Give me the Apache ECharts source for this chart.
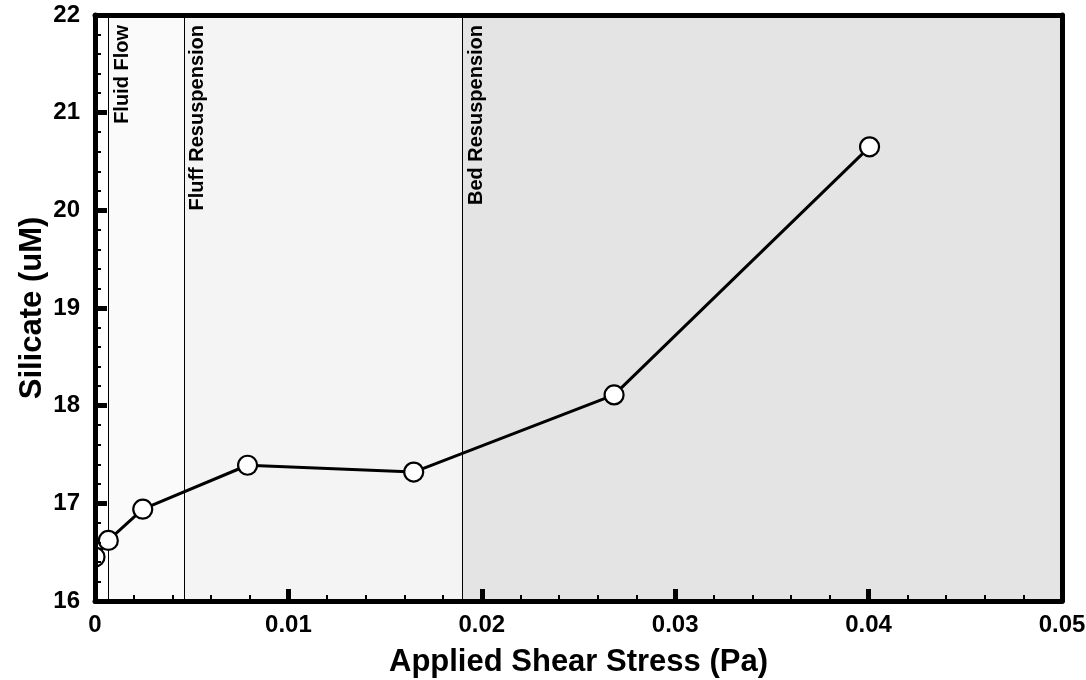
<!DOCTYPE html>
<html><head><meta charset="utf-8">
<script src="https://cdn.jsdelivr.net/npm/echarts@6/dist/echarts.min.js"></script>
<style>html,body{margin:0;padding:0;background:#fff}#c{width:1086px;height:680px}</style>
</head><body><div id="c"></div>
<script>
var shearStress = [0, 0.00069, 0.00247, 0.00789, 0.01648, 0.02684, 0.04005];
var silicate = [16.45, 16.62, 16.94, 17.39, 17.32, 18.11, 20.65];
var regimeNames = ['Fluid Flow', 'Fluff Resuspension', 'Bed Resuspension'];
var regimeStarts = [0.00071, 0.0046, 0.0190];
var regimeEnds = [0.0046, 0.0190, 0.05];
var regimeColors = ['#fafafa', '#f4f4f4', '#e4e4e4'];
var xTicks = [0, 0.01, 0.02, 0.03, 0.04, 0.05];
var yTicks = [16, 17, 18, 19, 20, 21, 22];

var FONT = 'Liberation Sans, Arial, Helvetica, sans-serif';
var chart = echarts.init(document.getElementById('c'));
var pts = shearStress.map(function (x, i) { return [x, silicate[i]]; });
var areas = regimeStarts.map(function (s, i) {
  return [{ xAxis: s, itemStyle: { color: regimeColors[i] } }, { xAxis: regimeEnds[i] }];
});
var lines = regimeStarts.map(function (s, i) {
  return { xAxis: s, label: { formatter: regimeNames[i] } };
});
function tickCommon() {
  return {
    axisLine: { show: true, onZero: false, lineStyle: { color: '#000', width: 5, cap: 'round' } },
    axisTick: { show: true, inside: true, length: 12, lineStyle: { width: 5, color: '#000' } },
    minorTick: { show: true, splitNumber: 5, length: 6, lineStyle: { width: 2, color: '#000' } },
    splitLine: { show: false }
  };
}
var labelStyle = { fontFamily: FONT, fontWeight: 'bold', fontSize: 24, color: '#000' };
var nameStyle = { fontFamily: FONT, fontWeight: 'bold', fontSize: 31, color: '#000' };
function borderAxis() {
  return {
    axisLine: { show: true, onZero: false, lineStyle: { color: '#000', width: 5, cap: 'round' } },
    axisTick: { show: false }, axisLabel: { show: false }, splitLine: { show: false }, z: 10
  };
}
chart.setOption({
  animation: false,
  grid: { left: 95, right: 24, top: 15, bottom: 79, outerBoundsMode: 'none', containLabel: false },
  xAxis: [Object.assign({
    type: 'value', min: xTicks[0], max: xTicks[xTicks.length - 1], interval: 0.01, z: 10,
    name: 'Applied Shear Stress (Pa)', nameLocation: 'middle', nameGap: 46, nameTextStyle: nameStyle, nameMoveOverlap: false,
    axisLabel: Object.assign({ margin: 12, formatter: function (v) { return String(+v.toFixed(2)); } }, labelStyle)
  }, tickCommon()),
  Object.assign({ type: 'value', position: 'top', min: xTicks[0], max: xTicks[xTicks.length - 1] }, borderAxis())],
  yAxis: [Object.assign({
    type: 'value', min: yTicks[0], max: yTicks[yTicks.length - 1], interval: 1, z: 10,
    name: 'Silicate (uM)', nameLocation: 'middle', nameGap: 47, nameRotate: 90, nameTextStyle: nameStyle, nameMoveOverlap: false,
    axisLabel: Object.assign({ margin: 15 }, labelStyle)
  }, tickCommon()),
  Object.assign({ type: 'value', position: 'right', min: yTicks[0], max: yTicks[yTicks.length - 1] }, borderAxis())],
  series: [{
    type: 'line', data: pts, showSymbol: false, z: 5, clip: true,
    lineStyle: { color: '#000', width: 3 },
    markArea: { silent: true, data: areas },
    markLine: {
      silent: true, symbol: 'none', precision: 6,
      lineStyle: { color: '#000', width: 1, type: 'solid' },
      label: { position: 'insideEndBottom', distance: [10, 4], fontFamily: FONT, fontWeight: 'bold', fontSize: 20, color: '#000' },
      data: lines
    }
  }, {
    type: 'custom', data: pts, clip: true, z: 6,
    renderItem: function (params, api) {
      var p = api.coord([api.value(0), api.value(1)]);
      return { type: 'circle', shape: { cx: p[0], cy: p[1], r: 9.5 },
        style: { fill: '#fff', stroke: '#000', lineWidth: 2.2 } };
    }
  }]
});
</script></body></html>
